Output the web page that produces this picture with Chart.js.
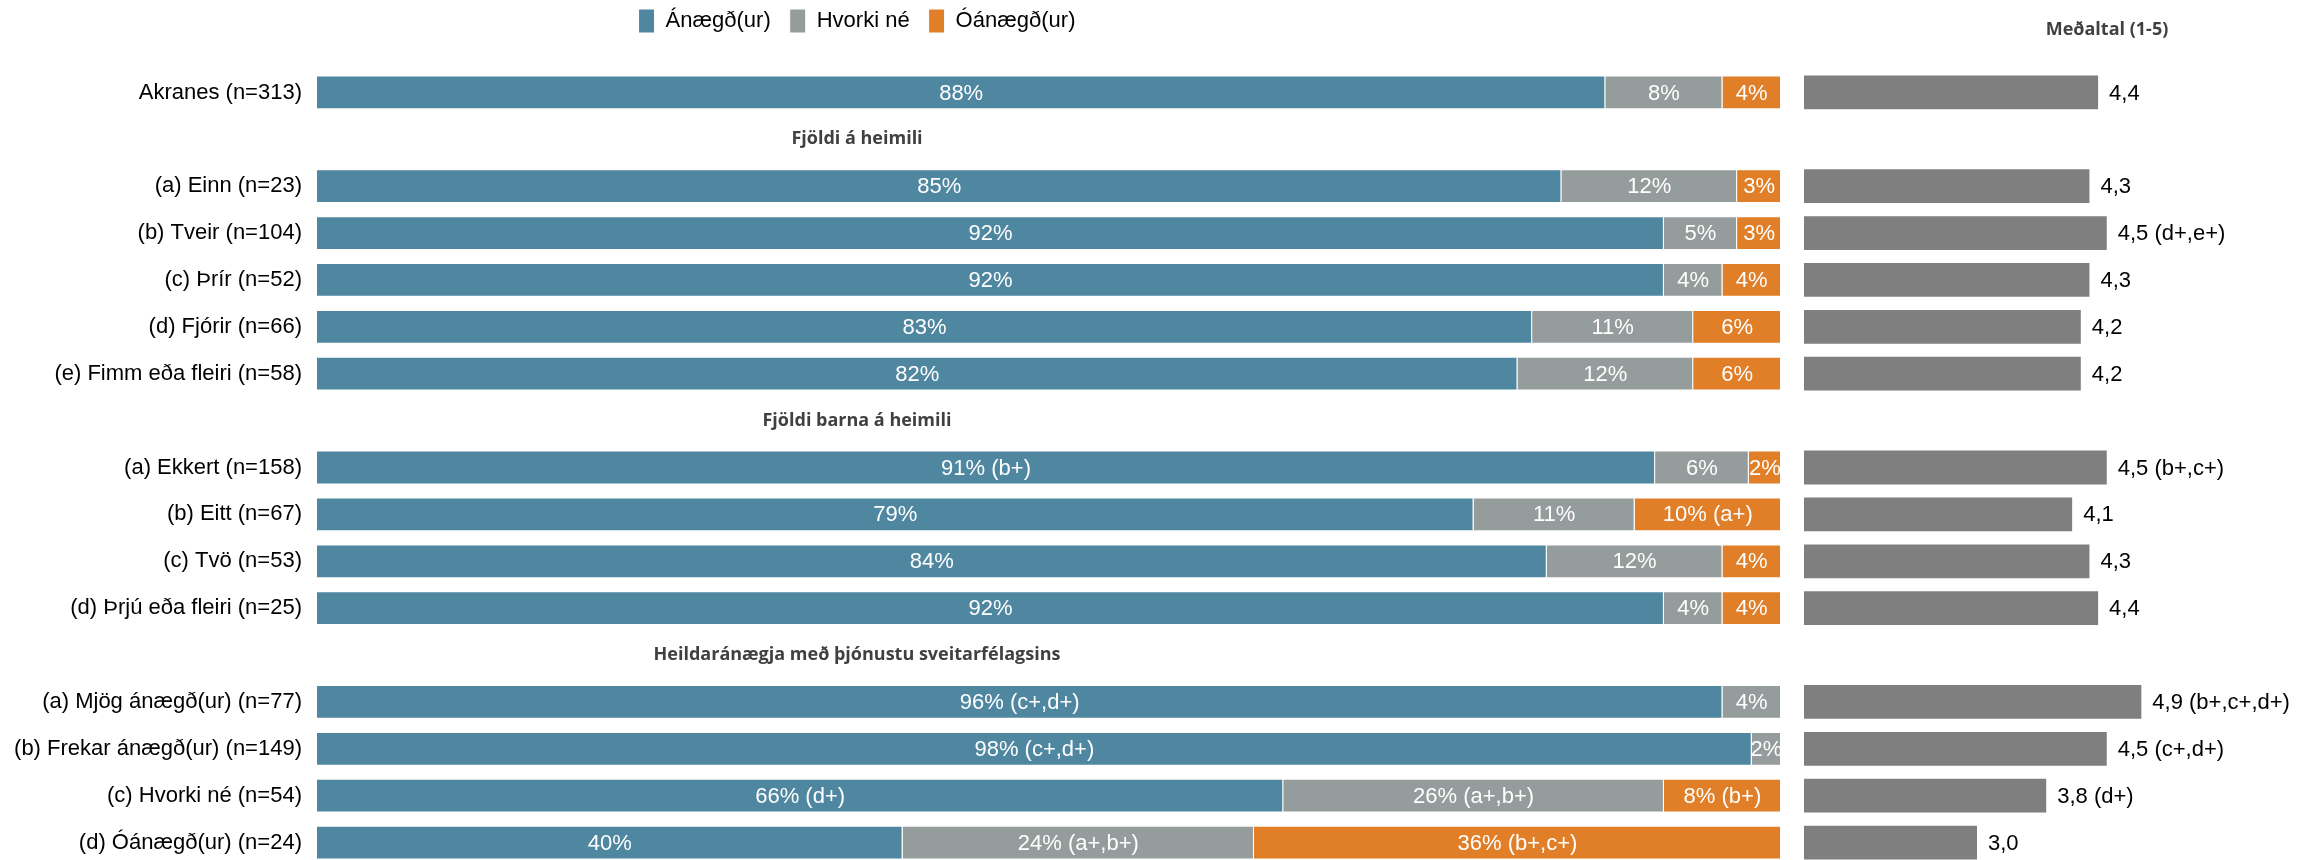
<!DOCTYPE html>
<html lang="is">
<head>
<meta charset="utf-8">
<title>Ánægja með þjónustu - Akranes</title>
<script src="https://cdn.jsdelivr.net/npm/chart.js@4"></script>
<style>
  html, body { margin: 0; padding: 0; background: #fff; overflow: hidden; width: 2320px; height: 860px; }
  #wrap { position: relative; width: 2320px; height: 860px; }
  #pctBox { position: absolute; left: -80px; top: -10px; width: 1874px; height: 906px; }
  #meanBox { position: absolute; left: 1790px; top: -10px; width: 634px; height: 906px; }
</style>
</head>
<body>
<div id="wrap">
  <div id="pctBox"><canvas id="pctChart"></canvas></div>
  <div id="meanBox"><canvas id="meanChart"></canvas></div>
</div>
<script>
'use strict'

// rows, '' = group heading row
const rowLabels = [
  'Akranes (n=313)', '',
  '(a) Einn (n=23)', '(b) Tveir (n=104)', '(c) Þrír (n=52)', '(d) Fjórir (n=66)', '(e) Fimm eða fleiri (n=58)', '',
  '(a) Ekkert (n=158)', '(b) Eitt (n=67)', '(c) Tvö (n=53)', '(d) Þrjú eða fleiri (n=25)', '',
  '(a) Mjög ánægð(ur) (n=77)', '(b) Frekar ánægð(ur) (n=149)', '(c) Hvorki né (n=54)', '(d) Óánægð(ur) (n=24)'
];
const groupRows = [1, 7, 12];
const groupTitles = ['Fjöldi á heimili', 'Fjöldi barna á heimili', 'Heildaránægja með þjónustu sveitarfélagsins'];

const seriesNames = ['Ánægð(ur)', 'Hvorki né', 'Óánægð(ur)'];
const seriesColors = ['#4f87a1', '#959c9c', '#e07f28'];

const satisfied    = [88, null, 85, 92, 92, 83, 82, null, 91.4, 79, 84, 92, null, 96, 98, 66, 40];
const neutral      = [8, null, 12, 5, 4, 11, 12, null, 6.4, 11, 12, 4, null, 4, 2, 26, 24];
const dissatisfied = [4, null, 3, 3, 4, 6, 6, null, 2.2, 10, 4, 4, null, 0, 0, 8, 36];

const satisfiedNote    = ['', '', '', '', '', '', '', '', '(b+)', '', '', '', '', '(c+,d+)', '(c+,d+)', '(d+)', ''];
const neutralNote      = ['', '', '', '', '', '', '', '', '', '', '', '', '', '', '', '(a+,b+)', '(a+,b+)'];
const dissatisfiedNote = ['', '', '', '', '', '', '', '', '', '(a+)', '', '', '', '', '', '(b+)', '(b+,c+)'];

const meanTitle = 'Meðaltal (1-5)';
const means     = [4.4, null, 4.3, 4.5, 4.3, 4.2, 4.2, null, 4.5, 4.1, 4.3, 4.4, null, 4.9, 4.5, 3.8, 3.0];
const meanNotes = ['', '', '', '(d+,e+)', '', '', '', '', '(b+,c+)', '', '', '', '', '(b+,c+,d+)', '(c+,d+)', '(d+)', ''];

Chart.defaults.font.family = '"Liberation Sans", Arial, sans-serif';
Chart.defaults.font.size = 22;
Chart.defaults.color = '#000';

const headFont = 'bold 18px "Open Sans", sans-serif';
const hidden = { display: false, drawTicks: false };

// % text inside each bar piece
const pctLabels = {
  id: 'pctLabels',
  afterDatasetsDraw(chart) {
    const c = chart.ctx;
    c.save();
    c.font = '22px "Liberation Sans", Arial, sans-serif';
    c.fillStyle = '#fff';
    c.textAlign = 'center';
    c.textBaseline = 'middle';
    chart.data.datasets.forEach((ds, i) => {
      chart.getDatasetMeta(i).data.forEach((bar, j) => {
        const v = ds.data[j];
        if (!v) return;
        const note = ds.notes[j];
        c.fillText(Math.round(v) + '%' + (note ? ' ' + note : ''), (bar.x + bar.base) / 2, bar.y + 1);
      });
    });
    c.restore();
  }
};

// group headings on the empty rows
const groupHeads = {
  id: 'groupHeads',
  afterDraw(chart) {
    const c = chart.ctx;
    const y = chart.scales.y;
    c.save();
    c.font = headFont;
    c.fillStyle = '#404040';
    c.textAlign = 'center';
    c.textBaseline = 'middle';
    groupRows.forEach((r, k) => c.fillText(groupTitles[k], chart.width / 2, y.getPixelForValue(r)));
    c.restore();
  }
};

// mean value to the right of the bar
const meanLabels = {
  id: 'meanLabels',
  afterDatasetsDraw(chart) {
    const c = chart.ctx;
    c.save();
    c.font = '22px "Liberation Sans", Arial, sans-serif';
    c.fillStyle = '#000';
    c.textAlign = 'left';
    c.textBaseline = 'middle';
    chart.getDatasetMeta(0).data.forEach((bar, j) => {
      const v = means[j];
      if (v == null) return;
      const note = meanNotes[j];
      c.fillText(v.toFixed(1).replace('.', ',') + (note ? ' ' + note : ''), bar.x + 11, bar.y + 1);
    });
    c.restore();
  }
};

const pctData = [satisfied, neutral, dissatisfied];
const pctNotes = [satisfiedNote, neutralNote, dissatisfiedNote];

const pctChart = new Chart(document.getElementById('pctChart'), {
  type: 'bar',
  data: {
    labels: rowLabels,
    datasets: seriesNames.map((name, i) => ({
      label: name,
      data: pctData[i],
      notes: pctNotes[i],
      backgroundColor: seriesColors[i],
      borderColor: '#ffffff',
      borderWidth: 1,
      yAxisID: 'y',
    }))
  },
  options: {
    indexAxis: 'y',
    responsive: true,
    maintainAspectRatio: false,
    animation: false,
    layout: { padding: { left: 13, right: 13, bottom: 30 } },
    plugins: {
      legend: {
        position: 'top',
        labels: { boxWidth: 16, boxHeight: 24, padding: 19, color: '#000', font: { size: 22 } }
      },
      tooltip: { enabled: false },
    },
    scales: {
      x: {
        stacked: true, min: 0, max: 100, position: 'top',
        ticks: { display: false }, grid: hidden, border: { display: false },
        afterFit(s) { s.height = 26; }
      },
      y: {
        stacked: true,
        ticks: { color: '#000', padding: 15, autoSkip: false, font: { size: 22 } },
        grid: hidden, border: { display: false },
        afterFit(s) { s.width = 384; }
      }
    }
  },
  plugins: [pctLabels, groupHeads]
});

const meanChart = new Chart(document.getElementById('meanChart'), {
  type: 'bar',
  data: {
    labels: rowLabels,
    datasets: [{
      label: meanTitle,
      data: means,
      backgroundColor: '#7f7f7f',
      yAxisID: 'y',
    }]
  },
  options: {
    indexAxis: 'y',
    responsive: true,
    maintainAspectRatio: false,
    animation: false,
    layout: { padding: { bottom: 30 } },
    plugins: {
      legend: { display: false },
      tooltip: { enabled: false },
      title: {
        display: true,
        text: meanTitle,
        color: '#404040',
        font: { family: '"Open Sans", sans-serif', weight: 'bold', size: 18 },
        padding: { top: 29, bottom: 28.4 }
      }
    },
    scales: {
      x: { min: 1, max: 5, display: false },
      y: {
        ticks: { display: false }, grid: hidden, border: { display: false },
        afterFit(s) { s.width = 14; }
      },
      yR: {
        type: 'category', position: 'right',
        ticks: { display: false }, grid: hidden, border: { display: false },
        afterFit(s) { s.width = 274; }
      }
    }
  },
  plugins: [meanLabels]
});
</script>
</body>
</html>
